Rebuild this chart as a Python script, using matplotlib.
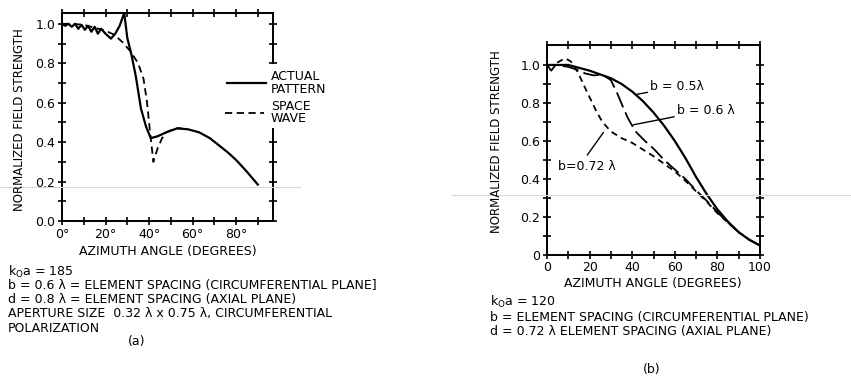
import numpy as np
import matplotlib
matplotlib.use("Agg")
import matplotlib.pyplot as plt
from matplotlib.lines import Line2D

# ---- data ----
# (a) ko*a = 185
ang_actual = [0, 1.5, 3, 4.5, 6, 7.5, 9, 10.5, 12, 13.5, 15, 16.5, 18, 20, 22.5, 24.5, 26.5,
              28.6, 30, 32, 34, 36.3, 38.6, 40.8, 44, 48, 53, 58, 63, 68, 72, 76, 80, 85, 90]
val_actual = [1.0, 0.99, 1.0, 0.985, 1.0, 0.975, 0.995, 0.97, 0.99, 0.96, 0.985, 0.95, 0.975,
              0.95, 0.925, 0.95, 0.99, 1.055, 0.93, 0.84, 0.73, 0.57, 0.48, 0.42, 0.43, 0.45,
              0.47, 0.465, 0.45, 0.42, 0.385, 0.35, 0.31, 0.25, 0.185]
ang_space = [0, 5, 10, 15, 20, 24, 28, 31.5, 35, 37.5, 39, 40.5, 42, 44, 46, 48, 50, 53, 55]
val_space = [1.0, 1.0, 0.995, 0.98, 0.965, 0.945, 0.905, 0.86, 0.80, 0.72, 0.61, 0.45, 0.30,
             0.37, 0.42, 0.45, 0.46, 0.47, 0.47]

# (b) ko*a = 120
ang_b05 = [0, 5, 10, 15, 20, 25, 30, 35, 40, 45, 50, 55, 60, 65, 70, 75, 80, 85, 90, 95, 100]
val_b05 = [1.0, 1.0, 1.0, 0.985, 0.97, 0.95, 0.93, 0.90, 0.86, 0.81, 0.75, 0.68, 0.60, 0.51,
           0.41, 0.32, 0.24, 0.175, 0.12, 0.08, 0.05]
ang_b06 = [0, 2, 4, 7, 10, 14, 18, 22, 26, 30, 33, 36, 38, 40, 42, 46, 50, 55, 60, 65, 70,
           75, 80, 85, 90, 95, 100]
val_b06 = [1.0, 0.97, 1.0, 0.995, 0.99, 0.975, 0.955, 0.945, 0.95, 0.92, 0.85, 0.77, 0.72,
           0.68, 0.645, 0.60, 0.56, 0.50, 0.45, 0.40, 0.34, 0.285, 0.225, 0.17, 0.12, 0.08, 0.05]
ang_b072 = [0, 3, 6, 8.5, 11, 13, 15, 17, 20, 23, 26, 30, 35, 40, 45, 50, 55, 60, 65, 70,
            75, 80, 85, 90, 95, 100]
val_b072 = [1.0, 1.0, 1.02, 1.035, 1.02, 0.99, 0.95, 0.90, 0.83, 0.76, 0.70, 0.65, 0.615,
            0.59, 0.555, 0.52, 0.48, 0.44, 0.39, 0.335, 0.28, 0.22, 0.17, 0.12, 0.08, 0.05]

W, H = 851, 377
fig = plt.figure(figsize=(W / 100, H / 100), dpi=100)
fs = 9


def px(x, y):
    return x / W, 1 - y / H


def style_axes(ax, xmax, xlabels, ymax, ylabels):
    ax.set_xlim(0, xmax)
    ax.set_ylim(0, ymax)
    ax.set_xticks(np.arange(0, 81 if xmax < 100 else 101, 20))
    ax.set_xticklabels(xlabels, fontsize=fs)
    ax.set_xticks(np.arange(0, xmax + 0.1, 10), minor=True)
    ax.set_yticks(np.arange(0, 1.01, 0.2))
    ax.set_yticklabels(ylabels, fontsize=fs)
    ax.set_yticks(np.arange(0, 1.01, 0.1), minor=True)
    ax.tick_params(which="both", direction="inout", length=6, width=1.2,
                   top=True, right=True, pad=2)
    for s in ax.spines.values():
        s.set_linewidth(1.4)


# ---- panel (a) ----
ax1 = fig.add_axes([62 / W, 1 - 221 / H, 211 / W, 208 / H])
style_axes(ax1, 97, ["0°", "20°", "40°", "60°", "80°"], 1.055,
           ["0.0", "0.2", "0.4", "0.6", "0.8", "1.0"])
ax1.plot(ang_actual, val_actual, color="black", lw=1.6, clip_on=False)
ax1.plot(ang_space, val_space, color="black", lw=1.3, dashes=(4, 2.5))

# right spine is broken where the legend sits
ax1.spines["right"].set_visible(False)
ax1.plot([1, 1], [1, 0.76], transform=ax1.transAxes, color="black", lw=1.4, clip_on=False)
ax1.plot([1, 1], [0.44, 0], transform=ax1.transAxes, color="black", lw=1.4, clip_on=False)
ax1.tick_params(which="both", right=False)
for yv in np.arange(0, 1.01, 0.1):
    if yv < 0.45 or yv > 0.79:
        ax1.plot([97], [yv], marker="_", ms=6, mew=1.2, color="black", clip_on=False)

ax1.plot([76, 94], [0.70, 0.70], color="black", lw=1.6, clip_on=False)
ax1.plot([75, 93], [0.55, 0.55], color="black", lw=1.3, dashes=(4, 2.5), clip_on=False)
ax1.text(96, 0.70, "ACTUAL\nPATTERN", fontsize=fs, va="center", ha="left", linespacing=0.95)
ax1.text(96, 0.55, "SPACE\nWAVE", fontsize=fs, va="center", ha="left", linespacing=0.95)

fig.text(*px(20, 120), "NORMALIZED FIELD STRENGTH", rotation=90, fontsize=8.5,
         ha="center", va="center")
fig.text(*px(168, 252), "AZIMUTH ANGLE (DEGREES)", fontsize=fs, ha="center", va="center")
lines_a = ["k$_{\\mathregular{O}}$a = 185",
           "b = 0.6 λ = ELEMENT SPACING (CIRCUMFERENTIAL PLANE]",
           "d = 0.8 λ = ELEMENT SPACING (AXIAL PLANE)",
           "APERTURE SIZE  0.32 λ x 0.75 λ, CIRCUMFERENTIAL",
           "POLARIZATION"]
for txt, yy in zip(lines_a, [272, 286, 300, 314, 328]):
    fig.text(*px(8, yy), txt, fontsize=fs, ha="left", va="center")
fig.text(*px(137, 342), "(a)", fontsize=fs, ha="center", va="center")

# ---- panel (b) ----
ax2 = fig.add_axes([547 / W, 1 - 255 / H, 213 / W, 210 / H])
style_axes(ax2, 100, ["0", "20", "40", "60", "80", "100"], 1.105,
           ["0", "0.2", "0.4", "0.6", "0.8", "1.0"])
ax2.tick_params(axis="x", which="both", pad=1)
ax2.plot(ang_b05, val_b05, color="black", lw=1.6)
ax2.plot(ang_b06, val_b06, color="black", lw=1.3, dashes=(9, 3))
ax2.plot(ang_b072, val_b072, color="black", lw=1.3, dashes=(3.5, 2.5))

ax2.annotate("b = 0.5λ", xy=(42, 0.845), xytext=(48.5, 0.885), fontsize=fs, va="center",
             arrowprops=dict(arrowstyle="-", color="black", lw=1, shrinkA=0, shrinkB=0))
ax2.annotate("b = 0.6 λ", xy=(40.5, 0.685), xytext=(61, 0.76), fontsize=fs, va="center",
             arrowprops=dict(arrowstyle="-", color="black", lw=1, shrinkA=0, shrinkB=0))
ax2.annotate("b=0.72 λ", xy=(26.5, 0.645), xytext=(5, 0.465), fontsize=fs, va="center",
             arrowprops=dict(arrowstyle="-", color="black", lw=1, shrinkA=2, shrinkB=0,
                             relpos=(0.45, 1)))

fig.text(*px(497, 142), "NORMALIZED FIELD STRENGTH", rotation=90, fontsize=8.5,
         ha="center", va="center")
fig.text(*px(653, 283), "AZIMUTH ANGLE (DEGREES)", fontsize=fs, ha="center", va="center")
lines_b = ["k$_{\\mathregular{O}}$a = 120",
           "b = ELEMENT SPACING (CIRCUMFERENTIAL PLANE)",
           "d = 0.72 λ ELEMENT SPACING (AXIAL PLANE)"]
for txt, yy in zip(lines_b, [302, 317, 332]):
    fig.text(*px(490, yy), txt, fontsize=fs, ha="left", va="center")
fig.text(*px(652, 370), "(b)", fontsize=fs, ha="center", va="center")

# faint scan lines
fig.add_artist(Line2D([0, 300 / W], [1 - 187 / H] * 2, color="#d8d8d8", lw=0.8))
fig.add_artist(Line2D([452 / W, 1], [1 - 195 / H] * 2, color="#d8d8d8", lw=0.8))

fig.savefig("out.png", dpi=100, facecolor="white")
